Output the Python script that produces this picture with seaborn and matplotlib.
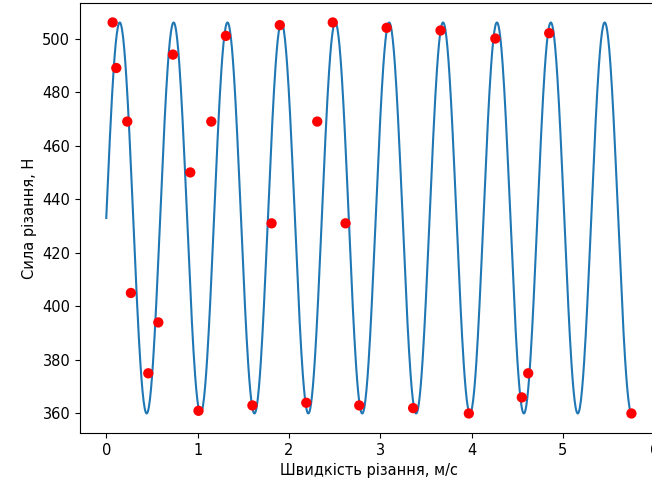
import numpy as np
import matplotlib
matplotlib.use("Agg")
import matplotlib.pyplot as plt
import seaborn as sns
import pandas as pd

# --- виміряні точки (швидкість, м/с ; сила, Н) ---
speed = [0.07, 0.11, 0.23, 0.27, 0.46, 0.57, 0.73, 0.92, 1.01, 1.15,
         1.31, 1.60, 1.81, 1.90, 2.19, 2.31, 2.48, 2.62, 2.77, 3.07,
         3.36, 3.66, 3.97, 4.26, 4.55, 4.62, 4.85, 5.75]
force = [506, 489, 469, 405, 375, 394, 494, 450, 361, 469,
         501, 363, 431, 505, 364, 469, 506, 431, 363, 504,
         362, 503, 360, 500, 366, 375, 502, 360]

# параметри апроксимуючої синусоїди
fit_offset = 433.0
fit_amp = 73.0
fit_period = 0.59
x_end = 5.75

plt.rcParams['font.size'] = 10.5

df = pd.DataFrame({"v": speed, "F": force})
xs = np.linspace(0, x_end, 1000)
fit = pd.DataFrame({"v": xs, "F": fit_offset + fit_amp * np.sin(2 * np.pi * xs / fit_period)})

fig = plt.figure(figsize=(6.52, 4.86), dpi=100)
ax = fig.add_axes([0.1227, 0.109, 0.886, 0.885])

sns.lineplot(data=fit, x="v", y="F", ax=ax, color="#1f77b4", lw=1.5)
sns.scatterplot(data=df, x="v", y="F", ax=ax, color="red", s=55, edgecolor="none", zorder=3)

ax.set_xlabel("Швидкість різання, м/с")
ax.set_ylabel("Сила різання, Н")
ax.set_xticks([0, 1, 2, 3, 4, 5, 6])
ax.set_xlim(-0.2875, 6.0375)
ax.set_ylim(352.7, 513.3)

fig.savefig("out.png", dpi=100)
